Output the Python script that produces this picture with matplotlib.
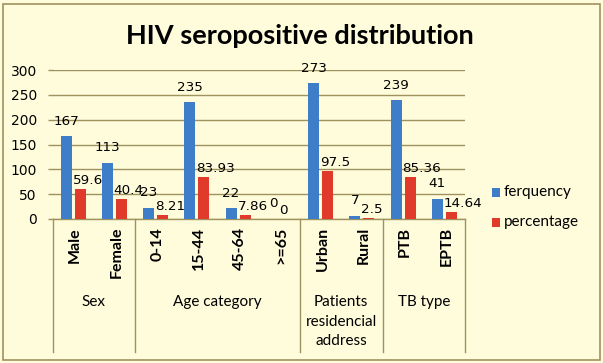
import matplotlib
matplotlib.use("Agg")
import matplotlib.pyplot as plt
from matplotlib.patches import Rectangle
import numpy as np

categories = ["Male", "Female", "0-14", "15-44", "45-64", ">=65", "Urban", "Rural", "PTB", "EPTB"]
frequency = [167, 113, 23, 235, 22, 0, 273, 7, 239, 41]
percentage = [59.6, 40.4, 8.21, 83.93, 7.86, 0, 97.5, 2.5, 85.36, 14.64]
freq_labels = ["167", "113", "23", "235", "22", "0", "273", "7", "239", "41"]
pct_labels = ["59.6", "40.4", "8.21", "83.93", "7.86", "0", "97.5", "2.5", "85.36", "14.64"]
groups = ["Sex", "Age category", "Patients\nresidencial\naddress", "TB type"]
group_sizes = [2, 4, 2, 2]
yticks = [0, 50, 100, 150, 200, 250, 300]

BLUE = "#3E7DC8"
RED = "#E03A2A"
OLIVE = "#A0925F"
BG = "#FFFCDC"

W, H = 603, 363
fig = plt.figure(figsize=(W / 100, H / 100), dpi=100, facecolor=BG)
fig.patches.append(Rectangle((3 / W, 3 / H), (W - 6) / W, (H - 7) / H, transform=fig.transFigure,
                             fill=False, edgecolor=OLIVE, linewidth=1.2))

left, right, top, bottom = 52.5, 465, 70, 219
ax = fig.add_axes([left / W, 1 - bottom / H, (right - left) / W, (bottom - top) / H])
ax.set_facecolor(BG)
ax.patch.set_alpha(0)

x = np.arange(len(categories))
bw = 0.27
off = 0.17
ax.bar(x - off, frequency, bw, color=BLUE, zorder=3)
ax.bar(x + off, percentage, bw, color=RED, zorder=3)

ax.set_xlim(-0.5, len(categories) - 0.5)
ax.set_ylim(0, 300)
ax.set_yticks(yticks)
ax.set_yticklabels([str(t) for t in yticks], fontsize=10, family="DejaVu Sans")
ax.set_xticks([])
ax.tick_params(axis="y", length=3.3, color=OLIVE, width=1, pad=8)
ax.yaxis.grid(True, color=OLIVE, linewidth=1, zorder=0)
for s in ["top", "right", "left"]:
    ax.spines[s].set_visible(False)
ax.spines["bottom"].set_color(OLIVE)
ax.spines["bottom"].set_linewidth(1)

for i in range(len(categories)):
    ax.annotate(freq_labels[i], xy=(x[i] - off, frequency[i]), xytext=(0.5 if frequency[i] == 0 else 0, 8.3),
                textcoords="offset points", ha="center", va="baseline",
                fontsize=9.7, family="DejaVu Sans", zorder=4)
    ax.annotate(pct_labels[i], xy=(x[i] + off - bw / 2, percentage[i]), xytext=(-1.5, 3.6),
                textcoords="offset points", ha="left", va="baseline",
                fontsize=9.7, family="DejaVu Sans", zorder=4)

# category labels
px = 1.0 / (bottom - top)  # one pixel in axes fraction (vertical)
for i, c in enumerate(categories):
    ax.text(x[i] + 0.05, -8 * px, c, rotation=90, ha="center", va="top",
            transform=ax.get_xaxis_transform(), fontsize=11.5, family="Lato",
            fontweight="bold")

# group separators and labels
bounds = np.concatenate([[0], np.cumsum(group_sizes)]) - 0.5
for b in bounds:
    ax.plot([b, b], [0, -(352 - bottom) * px], color=OLIVE, linewidth=1,
            transform=ax.get_xaxis_transform(), clip_on=False)
for g, lo, hi in zip(groups, bounds[:-1], bounds[1:]):
    ax.text((lo + hi) / 2, -(295 - bottom) * px, g, ha="center", va="top",
            transform=ax.get_xaxis_transform(), fontsize=11, family="Lato",
            linespacing=1.5, multialignment="center")

# title
fig.text(300 / W, 1 - 36 / H, "HIV seropositive distribution", ha="center", va="center",
         fontsize=19.5, family="Lato", fontweight="bold")

# legend
for lbl, col, yc in [("ferquency", BLUE, 192), ("percentage", RED, 222)]:
    fig.patches.append(Rectangle((491.5 / W, 1 - (yc + 4.5) / H), 8.5 / W, 9 / H,
                                 transform=fig.transFigure, facecolor=col, edgecolor="none"))
    fig.text(504 / W, 1 - yc / H, lbl, ha="left", va="center", fontsize=11, family="Lato")

fig.savefig("out.png", dpi=100, facecolor=BG)
